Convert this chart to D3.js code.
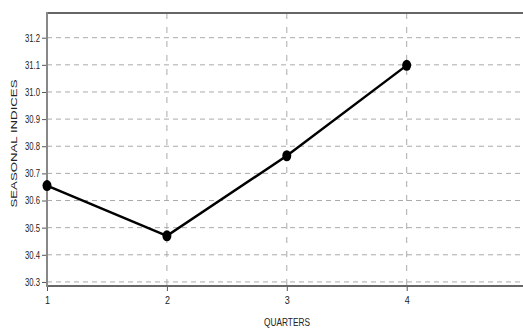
<!DOCTYPE html>
<html><head><meta charset="utf-8">
<script src="https://cdn.jsdelivr.net/npm/d3@7"></script>
<style>
body{margin:0;background:#fff;}
svg{display:block;}
text{font-family:"Liberation Sans",Arial,sans-serif;}
</style></head>
<body>
<script>
const quarters = [1, 2, 3, 4];
const seasonalIndices = [30.655, 30.47, 30.765, 31.098];
const yTicks = [30.3, 30.4, 30.5, 30.6, 30.7, 30.8, 30.9, 31.0, 31.1, 31.2];
const xTicks = [1, 2, 3, 4];
const xTitle = "QUARTERS";
const yTitle = "SEASONAL INDICES";

const W = 523, H = 329;
const m = {left: 47, top: 13, right: 0, bottom: 43};
const svg = d3.select("body").append("svg").attr("width", W).attr("height", H);

const x = d3.scaleLinear().domain([1, 4.97]).range([m.left, W - m.right]);
const y = d3.scaleLinear().domain([30.285, 31.291]).range([H - m.bottom, m.top]);

// grid
svg.append("g").selectAll("line").data(yTicks).join("line")
  .attr("x1", m.left).attr("x2", W).attr("y1", d => y(d)).attr("y2", d => y(d))
  .attr("stroke", "#aaa").attr("stroke-width", 1).attr("stroke-dasharray", "5,4");
svg.append("g").selectAll("line").data(xTicks.slice(1)).join("line")
  .attr("x1", d => x(d)).attr("x2", d => x(d)).attr("y1", m.top).attr("y2", H - m.bottom)
  .attr("stroke", "#aaa").attr("stroke-width", 1).attr("stroke-dasharray", "6,8");

// axes
const yAxis = svg.append("g").attr("transform", `translate(${m.left},0)`)
  .call(d3.axisLeft(y).tickValues(yTicks).tickFormat(d3.format(".1f")).tickSize(5).tickPadding(2));
const xAxis = svg.append("g").attr("transform", `translate(0,${H - m.bottom})`)
  .call(d3.axisBottom(x).tickValues(xTicks).tickFormat(d3.format("d")).tickSize(5).tickPadding(6));
[yAxis, xAxis].forEach(a => {
  a.select(".domain").remove();
  a.selectAll(".tick line").attr("stroke", "#555").attr("stroke-width", 1);
  a.selectAll(".tick text").attr("fill", "#222").style("font-size", "10.5px");
});
yAxis.selectAll(".tick text").attr("textLength", 15).attr("lengthAdjust", "spacingAndGlyphs");
xAxis.selectAll(".tick text").attr("textLength", 5).attr("lengthAdjust", "spacingAndGlyphs");

// frame lines
svg.append("line").attr("x1", m.left).attr("x2", W).attr("y1", H - m.bottom).attr("y2", H - m.bottom)
  .attr("stroke", "#666").attr("stroke-width", 2);
svg.append("line").attr("x1", m.left).attr("x2", W).attr("y1", m.top).attr("y2", m.top)
  .attr("stroke", "#666").attr("stroke-width", 2);
svg.append("line").attr("x1", m.left).attr("x2", m.left).attr("y1", m.top - 1).attr("y2", H - m.bottom + 1)
  .attr("stroke", "#888").attr("stroke-width", 2);

// data line
const data = quarters.map((q, i) => ({q, v: seasonalIndices[i]}));
svg.append("path").datum(data)
  .attr("d", d3.line().x(d => x(d.q)).y(d => y(d.v)))
  .attr("fill", "none").attr("stroke", "#000").attr("stroke-width", 2.5);
svg.append("g").selectAll("ellipse").data(data).join("ellipse")
  .attr("cx", d => x(d.q)).attr("cy", d => y(d.v)).attr("rx", 4.5).attr("ry", 5.5).attr("fill", "#000");

// titles
svg.append("text").attr("x", 264).attr("y", 326)
  .attr("textLength", 46).attr("lengthAdjust", "spacingAndGlyphs")
  .style("font-size", "11px").attr("fill", "#222").text(xTitle);
svg.append("text").attr("transform", `translate(17,${(m.top + H - m.bottom) / 2 - 6}) rotate(-90)`)
  .attr("x", -64).attr("textLength", 128).attr("lengthAdjust", "spacingAndGlyphs")
  .style("font-size", "9px").attr("fill", "#222").text(yTitle);
</script>
</body></html>
